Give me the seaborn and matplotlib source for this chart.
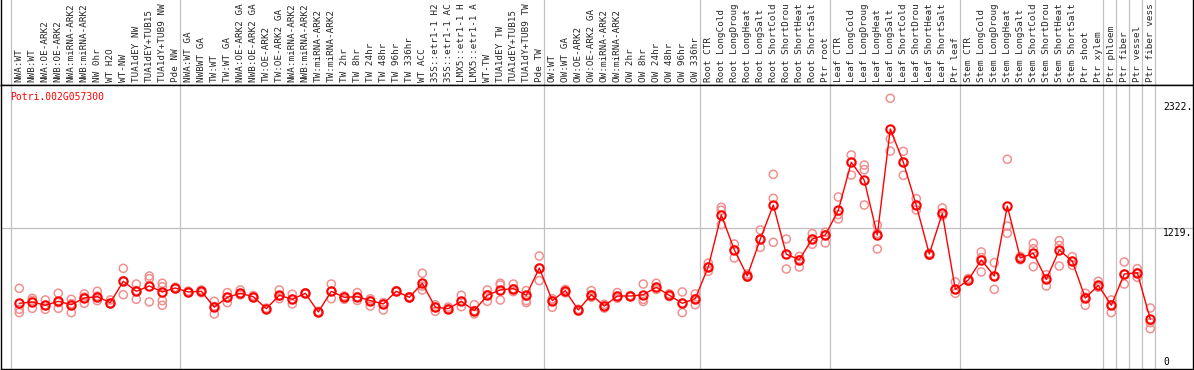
import numpy as np
import pandas as pd
import matplotlib
matplotlib.use("Agg")
import matplotlib.pyplot as plt
import matplotlib.transforms as mtransforms
import seaborn as sns

# rótulos das amostras, como aparecem (cortados no topo)
amostras = [
    "NWA:WT", "NWB:WT", "NWA:OE-ARK2", "NWB:OE-ARK2", "NWA:miRNA-ARK2", "NWB:miRNA-ARK2",
    "NW 0hr", "WT H2O", "WT-NW", "TUA1dEY NW", "TUA1dEY+TUB15", "TUA1dY+TUB9 NW", "Pde NW",
    "NWA:WT GA", "NWBWT GA", "TW:WT", "TW:WT GA", "NWA:OE-ARK2 GA", "NWB:OE-ARK2 GA",
    "TW:OE-ARK2", "TW:OE-ARK2 GA", "NWA:miRNA-ARK2", "NWB:miRNA-ARK2", "TW:miRNA-ARK2",
    "TW:miRNA-ARK2", "TW 2hr", "TW 8hr", "TW 24hr", "TW 48hr", "TW 96hr", "TW 336hr",
    "WT ACC", "35S::etr1-1 H2", "35S::etr1-1 AC", "LMX5::etr1-1 H", "LMX5::etr1-1 A",
    "WT-TW", "TUA1dEY TW", "TUA1dEY+TUB15", "TUA1dY+TUB9 TW", "Pde TW",
    "OW:WT", "OW:WT GA", "OW:OE-ARK2", "OW:OE-ARK2 GA", "OW:miRNA-ARK2", "OW:miRNA-ARK2",
    "OW 2hr", "OW 8hr", "OW 24hr", "OW 48hr", "OW 96hr", "OW 336hr",
    "Root CTR", "Root LongCold", "Root LongDroug", "Root LongHeat", "Root LongSalt",
    "Root ShortCold", "Root ShortDrou", "Root ShortHeat", "Root ShortSalt", "Ptr root",
    "Leaf CTR", "Leaf LongCold", "Leaf LongDroug", "Leaf LongHeat", "Leaf LongSalt",
    "Leaf ShortCold", "Leaf ShortDrou", "Leaf ShortHeat", "Leaf ShortSalt", "Ptr leaf",
    "Stem CTR", "Stem LongCold", "Stem LongDroug", "Stem LongHeat", "Stem LongSalt",
    "Stem ShortCold", "Stem ShortDrou", "Stem ShortHeat", "Stem ShortSalt", "Ptr shoot",
    "Ptr xylem", "Ptr phloem", "Ptr fiber", "Ptr vessel", "Ptr fiber vess",
]

# médias por amostra
medias = [
    534, 546, 516, 552, 521, 582, 594, 540, 734, 643, 691, 637, 673,
    637, 643, 498, 588, 625, 594, 485, 607, 570, 625, 455, 643, 588, 594, 558, 528,
    643, 588, 716, 498, 485, 552, 467, 607, 655, 667, 607, 855,
    558, 649, 473, 612, 509, 600, 600, 612, 679, 607, 534, 576,
    866, 1338, 1020, 783, 1118, 1428, 980, 931, 1119, 1155,
    1380, 1817, 1653, 1155, 2120, 1818, 1425, 982, 1352, 661,
    746, 928, 782, 1419, 946, 989, 752, 1019, 916, 582, 697,
    516, 800, 812, 388,
]

# réplicas por amostra
replicas = [
    [670, 479, 449], [579, 488, 560], [564, 479, 516], [625, 488, 540], [570, 449, 530],
    [619, 534, 590], [643, 558, 600], [564, 534, 530], [852, 612, 740], [709, 570, 650],
    [782, 758, 546], [716, 685, 558, 516], [680, 665, 673],
    [645, 630, 637], [655, 630, 643], [552, 437, 505], [631, 540, 590], [655, 625, 610],
    [605, 585, 594], [490, 480, 485], [655, 576, 600], [616, 528, 570], [630, 620, 625],
    [460, 450, 455], [709, 576, 643], [600, 570, 590], [631, 560, 594], [575, 509, 560],
    [540, 473, 528], [650, 640, 643], [595, 580, 588], [807, 655, 690], [520, 461, 498],
    [500, 475, 485], [607, 503, 552], [521, 437, 467], [655, 552, 610], [716, 700, 564],
    [709, 640, 667], [649, 558, 540, 600], [964, 740, 855],
    [575, 498, 558], [660, 630, 649], [480, 465, 473], [649, 590, 612], [525, 490, 509],
    [631, 580, 600], [605, 595, 600], [709, 570, 550], [716, 660, 679], [620, 595, 607],
    [637, 449, 534], [619, 521, 576],
    [900, 825, 866], [1407, 1380, 1249], [1073, 946, 1020], [800, 770, 783], [1201, 1043, 1118],
    [1707, 1489, 1089], [1119, 846, 980], [960, 864, 931], [1167, 1071, 1119], [1180, 1083, 1155],
    [1501, 1301, 1340], [1883, 1701, 1817], [1792, 1750, 1428], [1246, 1028, 1170],
    [2399, 2029, 1919], [1916, 1698, 1818], [1486, 1383, 1425], [970, 990, 982],
    [1401, 1330, 1352], [728, 625, 661],
    [760, 735, 746], [1001, 819, 950], [904, 661, 782], [1844, 1237, 1171], [960, 930, 946],
    [1080, 1030, 867], [794, 691, 760], [1104, 1060, 873], [958, 880, 916], [625, 516, 590],
    [734, 680, 697],
    [564, 449, 520], [910, 709, 800], [849, 770, 812], [491, 358, 303],
]

# início de cada grupo (linhas verticais)
inicio_grupos = [0, 13, 41, 53, 63, 73, 84, 85, 86, 87, 88]
ticks_y = [0, 1219, 2322]
ticks_y_txt = ["0", "1219.", "2322."]
gene = "Potri.002G057300"

pos = np.arange(len(amostras))
df_medias = pd.DataFrame({"pos": pos, "valor": medias})
df_rep = pd.DataFrame(
    [(i, v) for i, reps in enumerate(replicas) for v in reps],
    columns=["pos", "valor"],
)

sns.set_style("white")
plt.rcParams["font.family"] = ["DejaVu Sans Mono", "DejaVu Sans"]

W, H = 1194, 370
fig = plt.figure(figsize=(W / 100, H / 100), dpi=100)
x0, x1 = 1 / W, 1193 / W
ax_lab = fig.add_axes([x0, 1 - 85 / H, x1 - x0, 85 / H])
ax = fig.add_axes([x0, 1 - 369 / H, x1 - x0, (369 - 85) / H], sharex=ax_lab)

xmin = (1 - 19.3) / 13
xmax = (1193 - 19.3) / 13
ax.set_xlim(xmin, xmax)
ax.set_ylim(-64, 2520)
ax_lab.set_ylim(0, 1)

# linhas de grade
for g in inicio_grupos:
    for a in (ax, ax_lab):
        a.axvline(g - 0.65, color="#c0c0c0", lw=0.9, zorder=0)
ax.axhline(1219, color="#c0c0c0", lw=0.9, zorder=0)

# réplicas
sns.scatterplot(data=df_rep, x="pos", y="valor", ax=ax, marker="o", s=34,
                facecolors="none", edgecolors="#f09090", linewidths=1.1,
                legend=False, zorder=2)

# médias
sns.lineplot(data=df_medias, x="pos", y="valor", ax=ax, color="red", lw=1,
             marker="o", markersize=6, markerfacecolor="none",
             markeredgecolor="red", markeredgewidth=1.5, zorder=3)

# rótulos verticais
trans = mtransforms.blended_transform_factory(ax_lab.transData, ax_lab.transAxes)
for i, nome in enumerate(amostras):
    ax_lab.text(i, 0.03, nome, rotation=90, ha="center", va="bottom",
                fontsize=6.7, transform=trans)

# eixo y à direita
for v, t in zip(ticks_y, ticks_y_txt):
    ax.text(88.0, v, t, fontsize=7, ha="left",
            va="top" if v == 1219 else "center", color="black")

ax.text(-0.7, 2410, gene, color="red", fontsize=7, ha="left", va="center")

for a in (ax, ax_lab):
    a.set_xticks([])
    a.set_yticks([])
    a.set_xlabel("")
    a.set_ylabel("")
    for s in a.spines.values():
        s.set_color("black")
        s.set_linewidth(1)
ax_lab.spines["top"].set_visible(False)

fig.savefig("out.png", dpi=100)
plt.close(fig)
